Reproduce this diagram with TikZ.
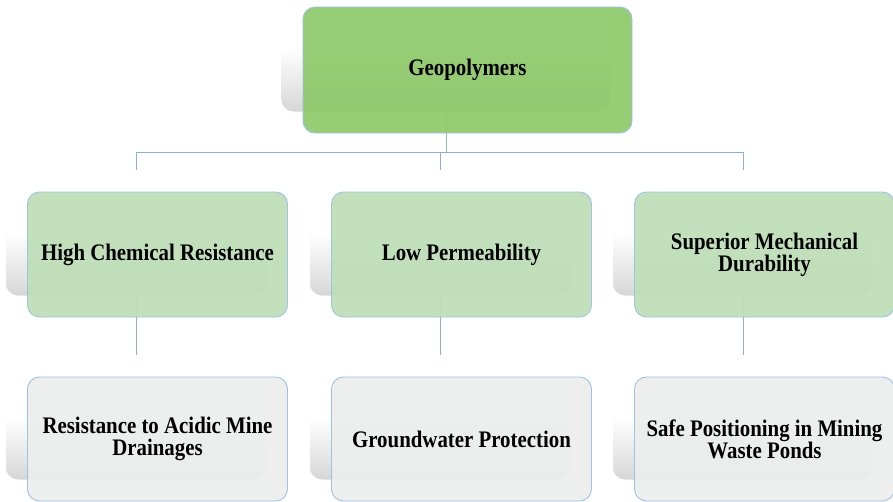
\documentclass[tikz,border=0pt]{standalone}
\usepackage{fontspec}
\newfontfamily\boxfont{Liberation Serif Bold}[FakeStretch=0.88]
\begin{document}
\begin{tikzpicture}[x=1pt,y=-1pt,
  shadowbox/.style={rectangle, rounded corners=12pt, inner sep=0pt,
    minimum width=#1, top color=white, bottom color=black!16,
    middle color=white, draw=none},
  shadowbox/.default=260pt,
  topbox/.style={rectangle, rounded corners=12pt, inner sep=0pt,
    minimum width=329pt, minimum height=126pt, fill=topgreen,
    fill opacity=0.93, text opacity=1, draw=edgeblue, line width=0.9pt,
    font=\boxfont\fontsize{23.7}{21.7}\selectfont, align=center},
  midbox/.style={topbox, minimum width=260pt, minimum height=125pt, fill=midgreen},
  lowbox/.style={topbox, minimum width=260pt, minimum height=124pt, fill=lowgray},
  link/.style={draw=linkblue, line width=0.9pt}
]
\definecolor{topgreen}{HTML}{8FC96B}
\definecolor{midgreen}{HTML}{BEDEB7}
\definecolor{lowgray}{HTML}{ECEDED}
\definecolor{edgeblue}{HTML}{9CC2E5}
\definecolor{linkblue}{HTML}{8EAED6}
\useasboundingbox (0,0) rectangle (893,501);

% soft gradient plates behind each box
\node[shadowbox=329pt, minimum height=126pt] (sh0) at (446,48.5) {};
\node[shadowbox, minimum height=125pt] (sh1) at (136,233) {};
\node[shadowbox, minimum height=125pt] (sh2) at (440,233) {};
\node[shadowbox, minimum height=125pt] (sh3) at (743,233) {};
\node[shadowbox, minimum height=124pt] (sh4) at (136,417.5) {};
\node[shadowbox, minimum height=124pt] (sh5) at (440,417.5) {};
\node[shadowbox, minimum height=124pt] (sh6) at (743,417.5) {};

% hierarchy connectors
\coordinate (bus) at (0,152);
\draw[link] (sh0.south) -- (sh0.south |- bus);
\draw[link] (sh1.north) -- (sh1.north |- bus) -- (sh3.north |- bus) -- (sh3.north);
\draw[link] (sh2.north) -- (sh2.north |- bus);
\draw[link] (sh1.south) -- (sh4.north);
\draw[link] (sh2.south) -- (sh5.north);
\draw[link] (sh3.south) -- (sh6.north);

% boxes
\node[topbox] (geo) at (467.5,70) {Geopolymers};
\node[midbox] (chem) at (157.5,254.5) {High Chemical Resistance};
\node[midbox] (perm) at (461.5,254.5) {Low Permeability};
\node[midbox] (mech) at (764.5,254.5) {Superior Mechanical\\Durability};
\node[lowbox] (acid) at (157.5,439) {Resistance to Acidic Mine\\Drainages};
\node[lowbox] (ground) at (461.5,439) {Groundwater Protection};
\node[lowbox] (ponds) at (764.5,439) {Safe Positioning in Mining\\Waste Ponds};
\end{tikzpicture}
\end{document}
